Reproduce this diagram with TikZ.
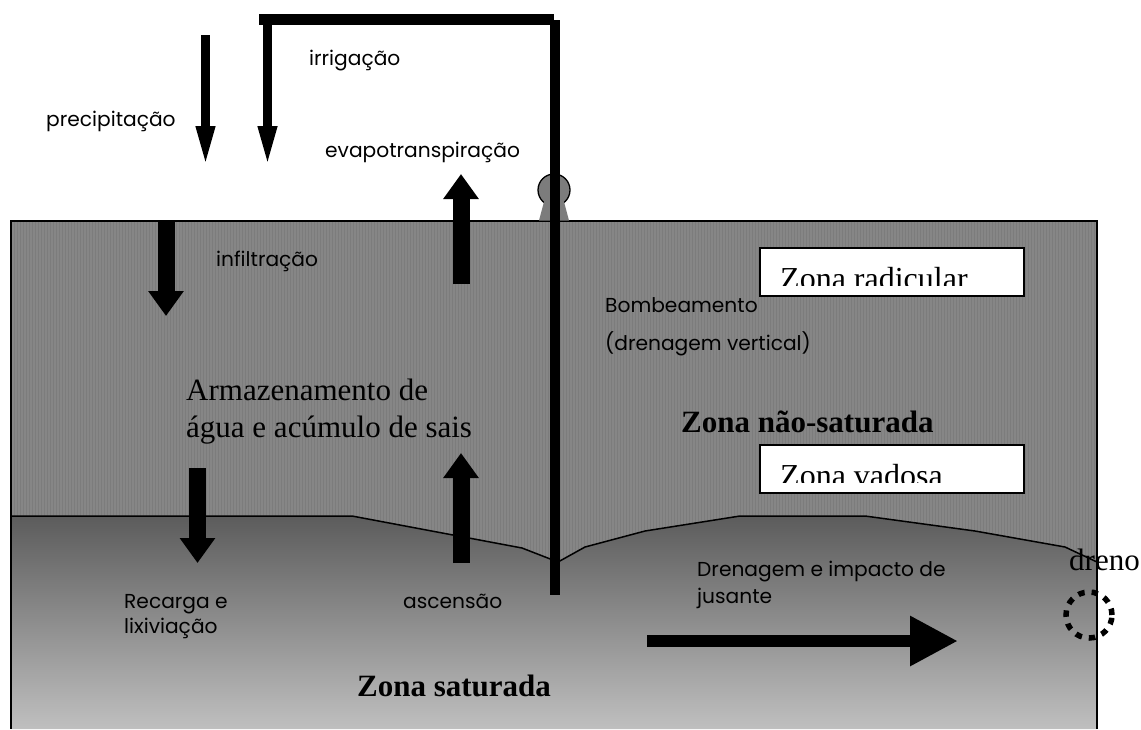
\documentclass[tikz,border=0pt]{standalone}
\usepackage{fontspec}
\setmainfont{Liberation Serif}
\newfontfamily\gothic{Poppins}
\usetikzlibrary{arrows.meta}
\tikzset{
  x=1pt,y=-1pt,
  serif/.style={anchor=base west,inner sep=0pt,font=\fontsize{31}{31}\selectfont},
  serifb/.style={anchor=base west,inner sep=0pt,font=\fontsize{31}{31}\selectfont\bfseries},
  sans/.style={anchor=base west,inner sep=0pt,font=\gothic\fontsize{20.2}{20.2}\selectfont},
  bigarrow/.style={line width=17pt,-{Triangle[length=25pt,width=34pt]}},
  thinarrow/.style={line width=9pt,-{Triangle[length=42pt,width=17pt]}},
  pipe/.style={line width=10pt},
  zonebox/.style={draw=black,line width=1.6pt,fill=white},
}
\definecolor{soil}{HTML}{7C7C7C}
\definecolor{soilb}{HTML}{868686}
\begin{document}
\begin{tikzpicture}
\useasboundingbox (0,0) rectangle (1141,729);
% soil
\fill[soil] (11,221) rectangle (1097,570);
\foreach \i in {0,...,361} {\draw[soilb,line width=1.2pt] (13+3*\i,222) -- (13+3*\i,570);}
\draw[line width=1.5pt] (11,729) -- (11,221) -- (1097,221) -- (1097,729);
% saturated zone
\shade[top color=black!64,bottom color=black!25]
  (11,516) -- (352,516) -- (522,548) -- (558,562) -- (585,547) -- (645,531) -- (740,516) -- (865,516) -- (975,531) -- (1065,547) -- (1097,562) -- (1097,729) -- (11,729) -- cycle;
\draw[line width=1.5pt] (11,516) -- (352,516) -- (522,548) -- (558,562) -- (585,547) -- (645,531) -- (740,516) -- (865,516) -- (975,531) -- (1065,547) -- (1097,562);
\draw[line width=1.5pt] (11,516) -- (11,729) (1097,562) -- (1097,729);
% pump
\node[circle,draw=black,fill=soil,line width=1.3pt,minimum size=32pt,inner sep=0pt] (pump) at (554,190) {};
\fill[soil] (545,198) -- (563,198) -- (569,220.5) -- (539,220.5) -- cycle;
% pipe
\coordinate (pipeL) at (259,19.5);
\coordinate (pipeC) at (554,19.5);
\coordinate (pipeT) at (555,20);
\coordinate (pipeB) at (555,595);
\draw[line width=11pt] (pipeL) -- (pipeC);
\draw[pipe] (pipeT) -- (pipeB);
% thin arrows
\coordinate (p1) at (205.5,35);
\coordinate (p2) at (205.5,168);
\coordinate (i1) at (267.5,20);
\coordinate (i2) at (267.5,168);
\draw[thinarrow] (p1) -- (p2);
\draw[thinarrow] (i1) -- (i2);
% big arrows
\coordinate (inf1) at (166,221);
\coordinate (inf2) at (166,316);
\coordinate (ev1) at (461,284);
\coordinate (ev2) at (461,174);
\coordinate (rc1) at (197.5,468);
\coordinate (rc2) at (197.5,563);
\coordinate (as1) at (461,563);
\coordinate (as2) at (461,453);
\coordinate (dr1) at (647,641);
\coordinate (dr2) at (958,641);
\draw[bigarrow] (inf1) -- (inf2);
\draw[bigarrow] (ev1) -- (ev2);
\draw[bigarrow] (rc1) -- (rc2);
\draw[bigarrow] (as1) -- (as2);
\draw[line width=12pt,-{Triangle[length=48pt,width=47pt]}] (dr1) -- (dr2);
% drain
\node[circle,draw=black,dash pattern=on 6.5pt off 7pt,line width=5.5pt,minimum size=46pt,inner sep=0pt] (drain) at (1089,615) {};
% boxes
\node[zonebox,anchor=north west,minimum width=264pt,minimum height=48pt,inner sep=0pt] (b1) at (759,247) {};
\node[zonebox,anchor=north west,minimum width=264pt,minimum height=48pt,inner sep=0pt] (b2) at (759,444) {};
\begin{scope}
\clip (760,248) rectangle (1022,285.5);
\node[serif,font=\fontsize{32}{32}\selectfont] (zr) at (780,289) {Zona radicular};
\end{scope}
\begin{scope}
\clip (760,445) rectangle (1022,482);
\node[serif,font=\fontsize{32}{32}\selectfont] (zv) at (780,486) {Zona vadosa};
\end{scope}
% labels
\node[sans] (t1) at (46,126) {precipitação};
\node[sans] (t2) at (309,65) {irrigação};
\node[sans] (t3) at (325,157) {evapotranspiração};
\node[sans] (t4) at (216,266) {infiltração};
\node[sans] (t5) at (605,312) {Bombeamento};
\node[sans] (t6) at (605,350) {(drenagem vertical)};
\node[sans] (t7) at (697,576) {Drenagem e impacto de};
\node[sans] (t8) at (697,603) {jusante};
\node[sans] (t9) at (124,608) {Recarga e};
\node[sans] (t10) at (124,633) {lixiviação};
\node[sans] (t11) at (403,608) {ascensão};
\node[serif] (s1) at (186,400) {Armazenamento de};
\node[serif] (s2) at (186,437) {água e acúmulo de sais};
\node[serif] (s3) at (1069,570) {dreno};
\node[serifb] (s4) at (681,432) {Zona não-saturada};
\node[serifb] (s5) at (357,696) {Zona saturada};
\end{tikzpicture}
\end{document}
